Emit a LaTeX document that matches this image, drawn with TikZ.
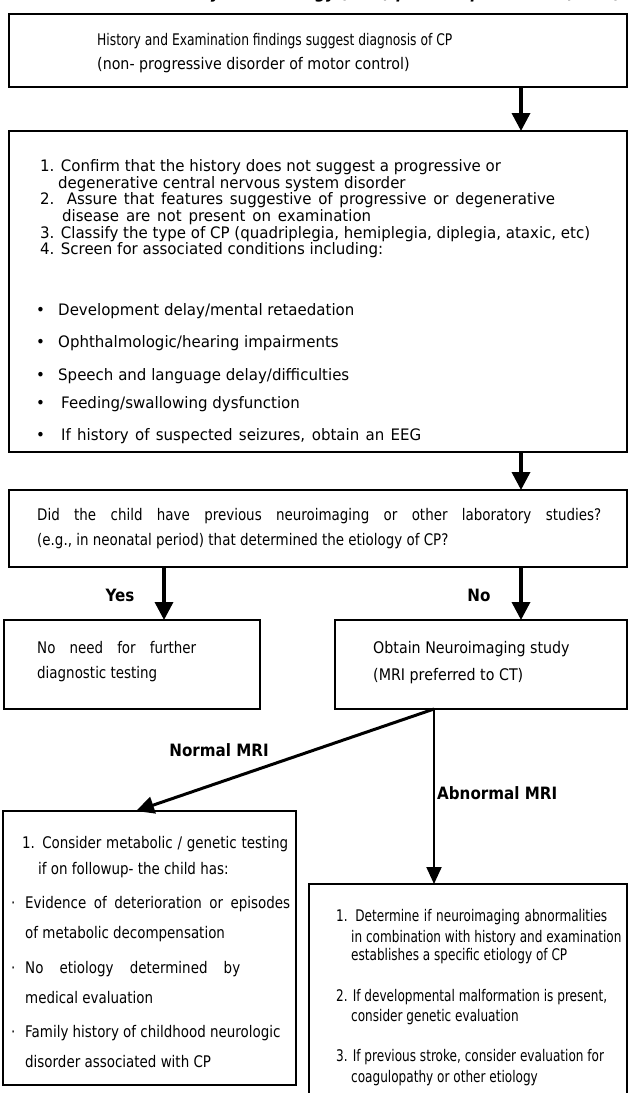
\documentclass[tikz,border=0pt]{standalone}
\usepackage{fontspec}
\setmainfont{DejaVu Sans}
\newfontfamily\fA{DejaVu Sans}[FakeStretch=0.89]
\newfontfamily\fE{DejaVu Sans}[FakeStretch=0.77]
\newfontfamily\fB{DejaVu Sans}[FakeStretch=0.95]
\newfontfamily\fC{DejaVu Sans}[FakeStretch=0.84]
\newfontfamily\fD{DejaVu Sans}[FakeStretch=0.755]
\usetikzlibrary{arrows.meta}
\begin{document}
\begin{tikzpicture}[x=1pt,y=-1pt,
  box/.style={draw=black, line width=1.6pt, rectangle, inner sep=0pt, outer sep=0pt, anchor=north west},
  txa/.style={anchor=base west, inner sep=0pt, font=\fA\fontsize{16}{19}\selectfont},
  txe/.style={anchor=base west, inner sep=0pt, font=\fE\fontsize{16}{19}\selectfont},
  txb/.style={anchor=base west, inner sep=0pt, font=\fB\fontsize{15.8}{17}\selectfont},
  txc/.style={anchor=base west, inner sep=0pt, font=\fC\fontsize{16}{19}\selectfont},
  txd/.style={anchor=base west, inner sep=0pt, font=\fD\fontsize{16}{19}\selectfont},
  lbl/.style={inner sep=0pt, font=\fA\bfseries\fontsize{17}{20}\selectfont},
  flow/.style={line width=3.5pt, -{Triangle[width=18pt,length=18pt]}},
  thin flow/.style={line width=2pt, -{Triangle[width=15pt,length=17pt]}},
]
\useasboundingbox (0,0) rectangle (629,1093);
\fill[white] (0,0) rectangle (629,1093);
\clip (0,0) rectangle (629,1093);

% clipped title (only its lowest part is visible)
\node[lbl, anchor=base east, font=\fA\bfseries\itshape\fontsize{17}{20}\selectfont] (title) at (622,-2)
  {American Academy of Neurology (AAN) practice parameter (2004)};

% boxes
\node[box, minimum width=618pt, minimum height=73pt]  (b1) at (9,14) {};
\node[box, minimum width=618pt, minimum height=321pt] (b2) at (9,131) {};
\node[box, minimum width=618pt, minimum height=77pt]  (b3) at (9,490) {};
\node[box, minimum width=256pt, minimum height=89pt]  (b4) at (4,620) {};
\node[box, minimum width=292pt, minimum height=89pt]  (b5) at (335,620) {};
\node[box, minimum width=293pt, minimum height=274pt] (b6) at (3,811) {};
\node[box, minimum width=318pt, minimum height=230pt] (b7) at (309,884) {};

% texts
\node[txe] (tA1) at (97,45) {History and Examination findings suggest diagnosis of CP};
\node[txa] (tA2) at (97,69) {(non- progressive disorder of motor control)};

\foreach \x/\y/\t [count=\i] in {
  40/171/{1. Confirm that the history does not suggest a progressive or},
  58/188/{degenerative central nervous system disorder},
  40/204/{\makebox[515pt][s]{2. Assure that features suggestive of progressive or degenerative}},
  62/221/{\makebox[309pt][s]{disease are not present on examination}},
  40/238/{3. Classify the type of CP (quadriplegia, hemiplegia, diplegia, ataxic, etc)},
  40/254/{4. Screen for associated conditions including:},
  58/315/{Development delay/mental retaedation},
  58/347/{Ophthalmologic/hearing impairments},
  58/380/{Speech and language delay/difficulties},
  61/408/{Feeding/swallowing dysfunction},
  61/440/{\makebox[360pt][s]{If history of suspected seizures, obtain an EEG}}}
  \node[txb] (tB\i) at (\x,\y) {\t};
\foreach \y [count=\i] in {315,347,380,408,440}
  \node[txb] (dB\i) at (36,\y) {•};

\foreach \x/\y/\t [count=\i] in {
  37/520/{\makebox[564pt][s]{Did the child have previous neuroimaging or other laboratory studies?}},
  37/545/{(e.g., in neonatal period) that determined the etiology of CP?}}
  \node[txc] (tC\i) at (\x,\y) {\t};

\node[lbl, anchor=base] (yes) at (120,601) {Yes};
\node[lbl, anchor=base] (no)  at (479,601) {No};

\node[txc] (tD1) at (37,653) {\makebox[159pt][s]{No need for further}};
\node[txc] (tD2) at (37,678) {diagnostic testing};
\node[txa] (tE1) at (373,653) {Obtain Neuroimaging study};
\node[txa] (tE2) at (373,680) {(MRI preferred to CT)};

\node[lbl, anchor=base] (normal) at (219,756) {Normal MRI};
\node[lbl, anchor=base west] (abnormal) at (437,799) {Abnormal MRI};

\foreach \x/\y/\t [count=\i] in {
  22/848/{\makebox[266pt][s]{1. Consider metabolic / genetic testing}},
  38/874/{if on followup- the child has:},
  25/908/{\makebox[265pt][s]{Evidence of deterioration or episodes}},
  25/938/{of metabolic decompensation},
  25/973/{\makebox[215pt][s]{No etiology determined by}},
  25/1003/{medical evaluation},
  25/1037/{Family history of childhood neurologic},
  25/1067/{disorder associated with CP}}
  \node[txc] (tF\i) at (\x,\y) {\t};
\foreach \y [count=\i] in {908,973,1037}
  \node[txc] (dF\i) at (11,\y) {·};

\foreach \x/\y/\t [count=\i] in {
  336/921/{\makebox[271pt][s]{1. Determine if neuroimaging abnormalities}},
  351/942/{in combination with history and examination},
  351/960/{establishes a specific etiology of CP},
  336/1001/{2. If developmental malformation is present,},
  351/1021/{consider genetic evaluation},
  336/1061/{3. If previous stroke, consider evaluation for},
  351/1082/{coagulopathy or other etiology}}
  \node[txd] (tG\i) at (\x,\y) {\t};

% connectors
\coordinate (colR) at (521,0);
\coordinate (colL) at (164,0);
\coordinate (colA) at (434,0);
\coordinate (colN) at (136,0);
\draw[flow] (b1.south -| colR) -- (b2.north -| colR);
\draw[flow] (b2.south -| colR) -- (b3.north -| colR);
\draw[flow] (b3.south -| colL) -- (b4.north -| colL);
\draw[flow] (b3.south -| colR) -- (b5.north -| colR);
\draw[line width=3pt, -{Triangle[width=17pt,length=18pt]}] (b5.south -| colA) -- (b6.north -| colN);
\draw[thin flow] (b5.south -| colA) -- (b7.north -| colA);
\end{tikzpicture}
\end{document}
